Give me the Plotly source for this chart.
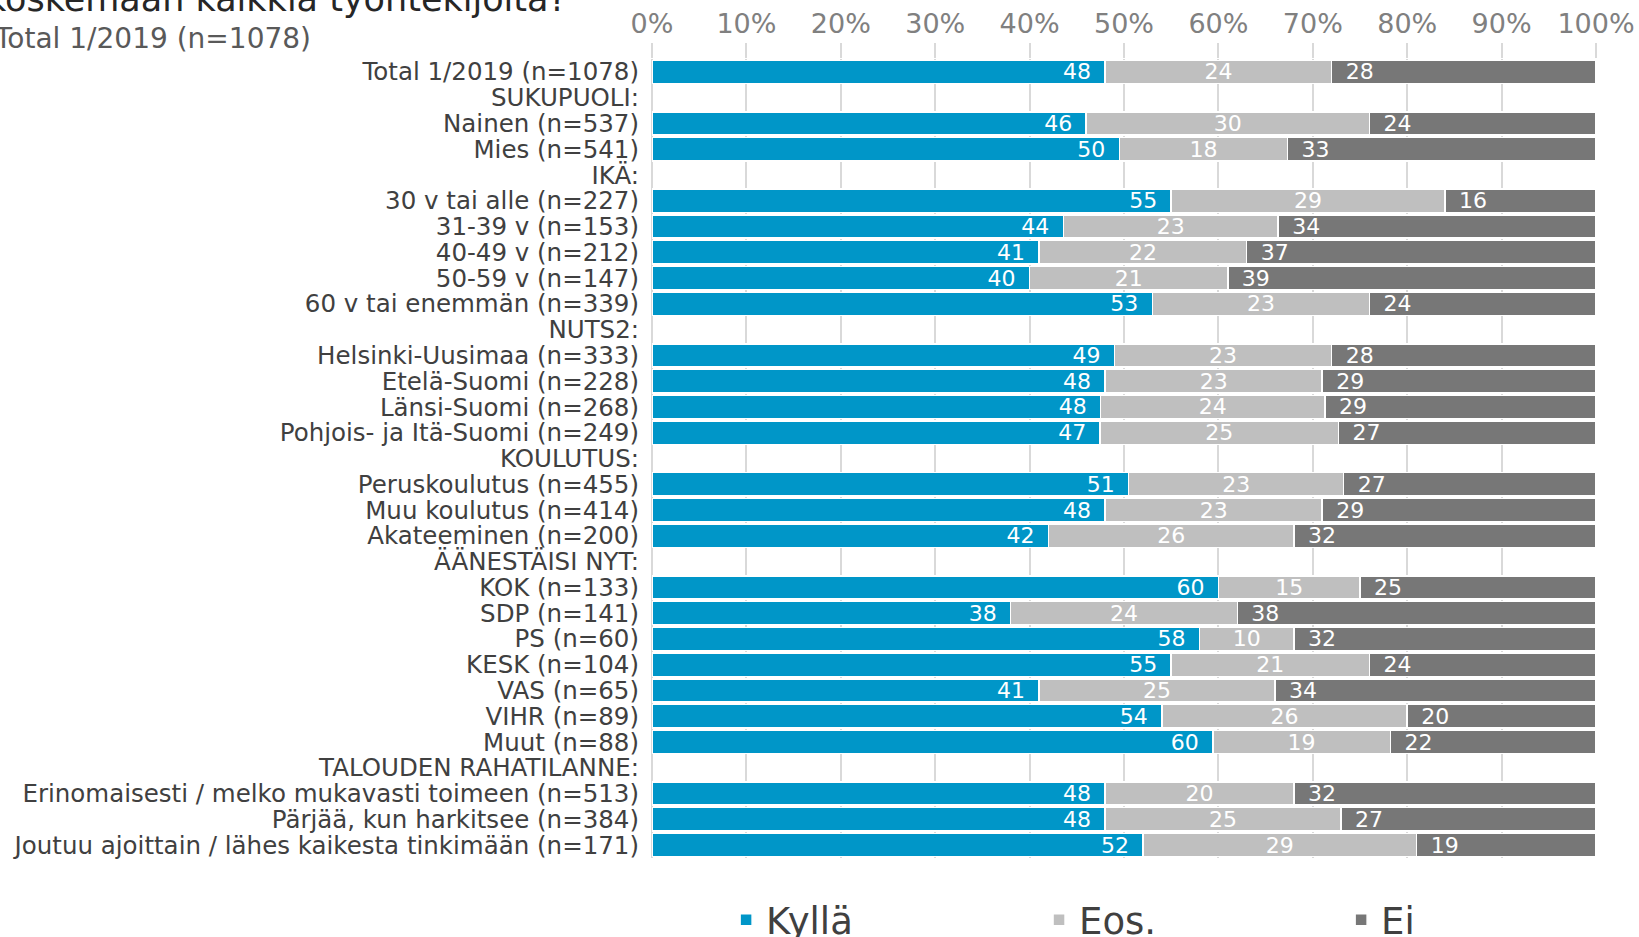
import plotly.graph_objects as go

# Rows from top to bottom; header rows have no values
categories = [
    "Total 1/2019 (n=1078)", "SUKUPUOLI:", "Nainen (n=537)", "Mies (n=541)",
    "IKÄ:", "30 v tai alle (n=227)", "31-39 v (n=153)", "40-49 v (n=212)",
    "50-59 v (n=147)", "60 v tai enemmän (n=339)", "NUTS2:",
    "Helsinki-Uusimaa (n=333)", "Etelä-Suomi (n=228)", "Länsi-Suomi (n=268)",
    "Pohjois- ja Itä-Suomi (n=249)", "KOULUTUS:", "Peruskoulutus (n=455)",
    "Muu koulutus (n=414)", "Akateeminen (n=200)", "ÄÄNESTÄISI NYT:",
    "KOK (n=133)", "SDP (n=141)", "PS (n=60)", "KESK (n=104)", "VAS (n=65)",
    "VIHR (n=89)", "Muut (n=88)", "TALOUDEN RAHATILANNE:",
    "Erinomaisesti / melko mukavasti toimeen (n=513)",
    "Pärjää, kun harkitsee (n=384)",
    "Joutuu ajoittain / lähes kaikesta tinkimään (n=171)",
]

kylla = [48, None, 46, 50, None, 55, 44, 41, 40, 53, None, 49, 48, 48, 47,
         None, 51, 48, 42, None, 60, 38, 58, 55, 41, 54, 60, None, 48, 48, 52]
eos = [24, None, 30, 18, None, 29, 23, 22, 21, 23, None, 23, 23, 24, 25,
       None, 23, 23, 26, None, 15, 24, 10, 21, 25, 26, 19, None, 20, 25, 29]
ei = [28, None, 24, 33, None, 16, 34, 37, 39, 24, None, 28, 29, 29, 27,
      None, 27, 29, 32, None, 25, 38, 32, 24, 34, 20, 22, None, 32, 27, 19]

PAD = "\u2002"  # en space, keeps the labels off the segment edges

series = [
    ("Kyllä", kylla, "#0096C8", "end", "legend", 0.0785, "{}" + PAD),
    ("Eos.", eos, "#BFBFBF", "middle", "legend2", 0.41, "{}"),
    ("Ei", ei, "#777777", "start", "legend3", 0.73, PAD + "{}"),
]

fig = go.Figure()
legends = {}
for name, vals, color, anchor, leg, lx, fmt in series:
    fig.add_trace(go.Bar(
        y=categories,
        x=vals,
        name=name,
        orientation="h",
        legend=leg,
        marker=dict(color=color, line=dict(color="white", width=1.5)),
        text=["" if v is None else fmt.format(v) for v in vals],
        textposition="inside",
        insidetextanchor=anchor,
        constraintext="none",
        textfont=dict(color="white", size=22, family="DejaVu Sans"),
    ))
    # one legend per series so the entries sit where the original has them
    legends[leg] = dict(
        orientation="h", x=lx, xanchor="left",
        yref="container", y=0.018, yanchor="middle",
        font=dict(size=37, color="#404040", family="DejaVu Sans"),
        bgcolor="rgba(0,0,0,0)",
    )

fig.add_annotation(
    text="koskemaan kaikkia työntekijöitä?", xref="paper", yref="paper",
    x=-0.7076, y=1.075, xanchor="left", yanchor="middle", showarrow=False,
    font=dict(size=35, color="#262626", family="DejaVu Sans"),
)
fig.add_annotation(
    text="Total 1/2019 (n=1078)", xref="paper", yref="paper",
    x=-0.699, y=1.0254, xanchor="left", yanchor="middle", showarrow=False,
    font=dict(size=28, color="#595959", family="DejaVu Sans"),
)

fig.update_layout(
    barmode="stack",
    barnorm="percent",
    bargap=0.1,
    width=1639,
    height=937,
    margin=dict(l=652, r=43, t=59, b=79, autoexpand=False),
    plot_bgcolor="white",
    paper_bgcolor="white",
    font=dict(family="DejaVu Sans", color="#404040"),
    showlegend=True,
    xaxis=dict(
        side="top", range=[0, 100], dtick=10, ticksuffix="%",
        showgrid=True, gridcolor="#D9D9D9", gridwidth=1.5,
        zeroline=True, zerolinecolor="#D9D9D9", zerolinewidth=1.5,
        ticks="outside", ticklen=15, tickcolor="#D9D9D9", tickwidth=1.5,
        tickfont=dict(size=27, color="#808080"), ticklabelstandoff=-1,
        automargin=False,
    ),
    yaxis=dict(
        autorange="reversed", showgrid=False,
        tickmode="array", tickvals=categories,
        tickfont=dict(size=24.5, color="#404040"), ticklabelstandoff=12,
        automargin=False,
    ),
    **legends,
)

# drop the page's default body margin so the figure sits at the window's corner
fig.write_html(
    "out.html",
    config={"displayModeBar": False},
    post_script="document.body.style.margin = '0';",
)
